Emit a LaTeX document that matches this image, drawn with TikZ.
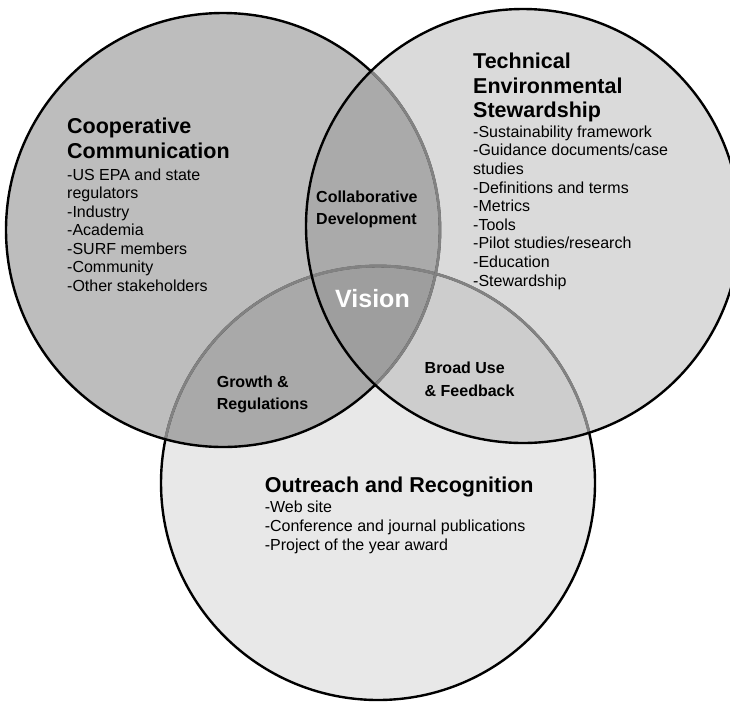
\documentclass[tikz,border=0pt]{standalone}
\usepackage{fontspec}
\setmainfont{Liberation Sans}
\definecolor{cB}{HTML}{E8E8E8}
\definecolor{cL}{HTML}{BDBDBD}
\definecolor{cR}{HTML}{DADADA}
\definecolor{cLB}{HTML}{A9A9A9}
\definecolor{cLR}{HTML}{AAAAAA}
\definecolor{cRB}{HTML}{CDCDCD}
\definecolor{cLRB}{HTML}{9E9E9E}
\definecolor{hidden}{HTML}{828282}
\tikzset{
  ring/.style={line width=2.4pt, draw=black},
  hiddenring/.style={line width=2.8pt, draw=hidden},
  title/.style={anchor=base west, inner sep=0pt, font=\fontsize{21.5}{25}\selectfont\bfseries},
  item/.style={anchor=base west, inner sep=0pt, font=\fontsize{16}{18.5}\selectfont},
  overlap/.style={anchor=base west, inner sep=0pt, font=\fontsize{16}{21}\selectfont\bfseries},
  vision/.style={anchor=base west, inner sep=0pt, text=white, font=\fontsize{25}{28}\selectfont\bfseries}
}
\begin{document}
\begin{tikzpicture}[x=1pt,y=-1pt]
\useasboundingbox (0,0) rectangle (730,702);
\coordinate (L) at (223,230);
\coordinate (R) at (523,226);
\coordinate (B) at (378,483);
\def\rad{217}
% fills
\fill[cB] (B) circle (\rad);
\fill[cL] (L) circle (\rad);
\fill[cR] (R) circle (\rad);
\begin{scope}\clip (L) circle (\rad); \fill[cLB] (B) circle (\rad); \end{scope}
\begin{scope}\clip (L) circle (\rad); \fill[cLR] (R) circle (\rad); \end{scope}
\begin{scope}\clip (R) circle (\rad); \fill[cRB] (B) circle (\rad); \end{scope}
\begin{scope}\clip (L) circle (\rad); \clip (R) circle (\rad); \fill[cLRB] (B) circle (\rad); \end{scope}
% outlines
\draw[ring] (B) circle (\rad);
\begin{scope}\clip (L) circle (\rad); \draw[hiddenring] (B) circle (\rad); \end{scope}
\begin{scope}\clip (R) circle (\rad); \draw[hiddenring] (B) circle (\rad); \end{scope}
\draw[ring] (L) circle (\rad);
\begin{scope}\clip (R) circle (\rad); \draw[hiddenring] (L) circle (\rad); \end{scope}
\draw[ring] (R) circle (\rad);
% left circle text
\node[title] (lt1) at (67,133.5) {Cooperative};
\node[title] (lt2) at (67,158.5) {Communication};
\foreach \t [count=\i from 0] in {-US EPA and state,regulators,-Industry,-Academia,-SURF members,-Community,-Other stakeholders}
  \node[item] (lb\i) at (67,180+18.5*\i) {\t};
% right circle text
\node[title] (rt1) at (473,68) {Technical};
\node[title] (rt2) at (473,93) {Environmental};
\node[title] (rt3) at (473,117) {Stewardship};
\foreach \t [count=\i from 0] in {-Sustainability framework,-Guidance documents/case,studies,-Definitions and terms,-Metrics,-Tools,-Pilot studies/research,-Education,-Stewardship}
  \node[item] (rb\i) at (473,137.3+18.6*\i) {\t};
% bottom circle text
\node[title] (bt1) at (264.6,492.3) {Outreach and Recognition};
\foreach \t [count=\i from 0] in {-Web site,-Conference and journal publications,-Project of the year award}
  \node[item] (bb\i) at (264.6,512.6+18.7*\i) {\t};
% overlaps
\node[overlap] (c1) at (316,202.7) {Collaborative};
\node[overlap] (c2) at (316,224) {Development};
\node[overlap] (g1) at (216.6,387.5) {Growth \&};
\node[overlap] (g2) at (216.6,409.5) {Regulations};
\node[overlap] (f1) at (424.5,373) {Broad Use};
\node[overlap] (f2) at (424.5,396) {\& Feedback};
\node[vision] (v) at (335,307.7) {Vision};
\end{tikzpicture}
\end{document}
